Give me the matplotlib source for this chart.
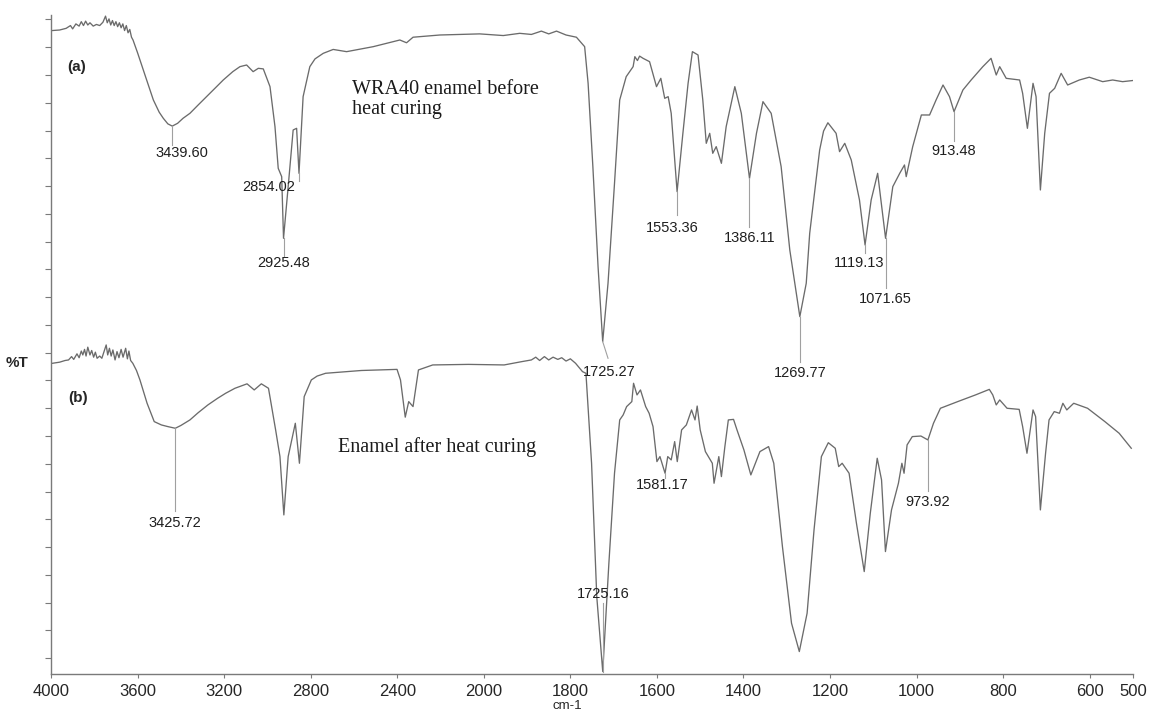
import numpy as np
import matplotlib
matplotlib.use("Agg")
import matplotlib.pyplot as plt

# ---------------- data (wavenumber cm-1, %T) ----------------
wn_a = [3995, 3960, 3930, 3910, 3900, 3885, 3870, 3860, 3850, 3840, 3830, 3820, 3805, 3790,
        3775, 3760, 3748, 3740, 3732, 3724, 3716, 3708, 3700, 3692, 3684, 3676, 3668, 3660,
        3652, 3644, 3636, 3628, 3621, 3600, 3589, 3575, 3558, 3540, 3527, 3500, 3481, 3460,
        3439.6, 3415, 3390, 3358, 3320, 3281, 3240, 3204, 3160, 3127,
        3096, 3066, 3042, 3019, 2988, 2965, 2950, 2934, 2925.5, 2904, 2881, 2865, 2854,
        2835, 2804, 2780, 2742, 2696, 2634, 2511, 2388, 2357, 2327, 2203, 2019, 1955, 1917, 1890,
        1867, 1850, 1832, 1810, 1786, 1767, 1759, 1748, 1736, 1725.3, 1713, 1698, 1686, 1671,
        1655, 1651, 1645, 1640, 1632, 1617, 1601, 1591, 1582, 1574, 1567, 1553.4, 1540, 1528,
        1518, 1505, 1494, 1486, 1478, 1471, 1463, 1451, 1440, 1420, 1405, 1386.1, 1370, 1355,
        1336, 1313, 1293, 1269.8, 1255, 1247, 1224, 1215, 1205, 1186, 1178, 1166, 1151, 1132,
        1119.1, 1105, 1090, 1071.7, 1055, 1039, 1028, 1024, 1009, 989, 970, 955, 939, 924,
        913.5, 893, 874, 847, 828, 816, 808, 793, 762, 755, 744, 731, 724, 714, 704, 693,
        681, 666, 651, 624, 601, 570, 547, 524, 501]
t_a = [118.0, 118.1, 118.4, 118.9, 118.3, 119.2, 118.8, 119.6, 118.9, 119.7, 119.0, 119.4, 118.8, 119.1,
       118.9, 119.5, 120.6, 119.4, 120.1, 119.0, 119.8, 118.9, 119.6, 118.7, 119.4, 118.5, 119.2, 118.0,
       118.9, 117.6, 118.2, 116.8, 116.3, 114.0, 112.7, 111.0, 109.1, 107.0, 105.5, 103.3, 102.2, 101.2,
       100.8, 101.3, 102.2, 103.1, 104.6, 106.1, 107.7, 109.1, 110.6, 111.5,
       111.8, 110.6, 111.2, 111.1, 107.9, 100.7, 93.2, 91.7, 80.6, 89.9, 100.1, 100.4, 92.3,
       106.1, 111.5, 112.9, 113.9, 114.6, 114.2, 115.1, 116.3, 115.8, 116.8, 117.2, 117.4, 117.1, 117.5, 117.3,
       117.9, 117.4, 117.9, 117.2, 116.8, 115.1, 108.5, 93.5, 75.5, 62.0, 72.5, 90.5, 105.5, 109.7,
       111.5, 113.3, 112.6, 113.4, 113.0, 112.4, 107.9, 109.4, 105.8, 106.1, 103.1, 89.0, 99.5, 108.5,
       114.2, 113.6, 105.5, 97.7, 99.5, 95.9, 97.1, 94.1, 100.7, 107.9, 103.1, 91.4, 99.5, 105.2,
       103.1, 93.5, 78.5, 66.5, 72.5, 81.5, 96.5, 99.9, 101.4, 99.5, 96.2, 97.7, 94.7, 87.5,
       79.4, 87.5, 92.3, 80.6, 89.9, 92.3, 93.8, 91.7, 97.1, 102.8, 102.8, 105.5, 108.2, 106.1,
       103.4, 107.3, 109.1, 111.5, 113.0, 110.0, 111.5, 109.4, 109.1, 106.7, 100.4, 108.5, 106.1, 89.3, 99.5, 106.7,
       107.6, 110.3, 108.2, 109.1, 109.6, 108.8, 109.1, 108.8, 109.0]

wn_b = [3993, 3960, 3935, 3919, 3905, 3895, 3880, 3870, 3860, 3853, 3845, 3838, 3830, 3820,
        3812, 3803, 3795, 3787, 3775, 3765, 3755, 3745, 3738, 3730, 3722, 3714, 3704, 3695,
        3686, 3676, 3667, 3655, 3647, 3640, 3632, 3622, 3605, 3589, 3556, 3523, 3490, 3460, 3425.7,
        3400, 3358, 3320, 3275, 3230, 3193, 3150, 3094, 3061, 3028, 2995, 2962, 2942, 2924, 2904, 2871, 2852, 2830,
        2797, 2770, 2731, 2566, 2401, 2385, 2363, 2347, 2327, 2302, 2236, 2071, 1953, 1912, 1890,
        1880, 1871, 1860, 1850, 1840, 1829, 1820, 1810, 1800, 1788, 1772, 1764, 1751, 1739,
        1725.2, 1711, 1698, 1686, 1678, 1670, 1658, 1654, 1646, 1638, 1626, 1618, 1609, 1600,
        1593, 1581.2, 1575, 1567, 1559, 1553, 1543, 1532, 1520, 1512, 1507, 1500, 1488, 1472,
        1468, 1457, 1451, 1443, 1435, 1423, 1415, 1399, 1383, 1362, 1342, 1330, 1310, 1289,
        1271, 1253, 1237, 1220, 1204, 1188, 1180, 1172, 1156, 1139, 1121, 1107, 1091, 1081,
        1072, 1058, 1042, 1034, 1029, 1022, 1010, 990, 973.9, 961, 945, 905, 864, 832, 824,
        816, 808, 791, 763, 755, 745, 731, 725, 714, 702, 694, 682, 670, 662, 653, 637, 605,
        565, 532, 504]
t_b = [58.1, 58.3, 58.6, 58.7, 59.3, 58.8, 59.8, 59.1, 60.3, 59.6, 60.6, 59.4, 61.0, 59.6,
       60.4, 59.2, 60.1, 59.0, 59.4, 59.0, 60.2, 61.4, 59.6, 60.8, 59.4, 60.5, 58.7, 60.2,
       59.1, 60.6, 59.2, 60.8, 58.9, 60.3, 58.6, 58.1, 56.8, 55.1, 50.9, 47.6, 47.0, 46.7, 46.4,
       46.9, 47.9, 49.2, 50.6, 51.8, 52.7, 53.6, 54.4, 53.3, 54.4, 53.6, 46.1, 41.3, 30.8, 41.3, 47.3, 40.1, 52.1,
       55.1, 55.8, 56.3, 56.8, 57.0, 55.1, 48.4, 51.2, 50.3, 56.9, 57.8, 57.9, 57.8, 58.4, 58.7,
       59.2, 58.6, 59.3, 58.7, 59.2, 58.8, 59.1, 58.5, 58.9, 58.1, 56.6, 56.3, 40.1, 16.1,
       2.6, 22.1, 38.3, 47.9, 48.8, 50.3, 51.2, 54.5, 52.4, 53.3, 50.3, 49.1, 46.7, 40.4,
       41.3, 38.3, 41.3, 40.7, 44.0, 40.4, 46.1, 47.0, 49.7, 47.9, 50.4, 46.1, 42.2, 40.1,
       36.5, 41.3, 37.7, 43.1, 47.9, 48.0, 46.1, 42.5, 38.0, 42.2, 43.1, 40.1, 25.1, 11.3,
       6.2, 13.1, 28.1, 41.3, 43.8, 42.8, 39.5, 40.1, 38.3, 29.3, 20.6, 31.1, 41.0, 37.1,
       24.2, 31.7, 36.5, 40.1, 38.3, 43.4, 44.9, 45.0, 44.3, 47.3, 50.0, 51.2, 52.4, 53.4, 52.4,
       50.6, 51.5, 50.0, 49.8, 46.7, 41.9, 49.7, 48.5, 31.7, 41.9, 47.9, 49.4, 49.1, 50.9, 49.7, 50.9, 50.0,
       47.6, 45.5, 42.8]

xticks = [4000, 3600, 3200, 2800, 2400, 2000, 1800, 1600, 1400, 1200, 1000, 800, 600, 500]

# peak labels: (text, peak wn, peak T, line end wn, line end T, label wn, label T)
peaks = [
    ("3439.60", 3439.6, 100.8, 3439.6, 97.4, 3395, 95.9),
    ("2925.48", 2925.5, 80.6, 2925.5, 77.4, 2924, 76.1),
    ("2854.02", 2854.0, 92.3, 2854.0, 90.9, 2993, 89.8),
    ("1725.27", 1725.3, 62.0, 1713, 59.0, 1709, 56.5),
    ("1553.36", 1553.4, 89.0, 1553.4, 84.8, 1564, 82.4),
    ("1386.11", 1386.1, 91.4, 1386.1, 82.6, 1386, 80.6),
    ("1269.77", 1269.8, 66.5, 1269.8, 58.3, 1268, 56.3),
    ("1119.13", 1119.1, 79.4, 1119.1, 77.9, 1133, 76.1),
    ("1071.65", 1071.7, 80.6, 1071.7, 71.6, 1072, 69.7),
    ("913.48", 913.5, 103.4, 913.5, 98.1, 915, 96.3),
    ("3425.72", 3425.7, 46.4, 3425.7, 31.5, 3427, 29.3),
    ("1725.16", 1725.2, 2.6, 1725.2, 14.9, 1723, 16.6),
    ("1581.17", 1581.2, 38.3, 1581.2, 37.4, 1587, 36.2),
    ("973.92", 973.9, 44.3, 973.9, 35.1, 975, 33.1),
]

# ---------------- figure ----------------
fig = plt.figure(figsize=(11.5, 7.11), dpi=100)
ax = fig.add_axes([0.04435, 0.05204, 0.94087, 0.92686])


def fwd(w):
    w = np.asarray(w, dtype=float)
    return np.where(w > 2000, 2000 + (w - 2000) / 2.0, w)


def inv(u):
    u = np.asarray(u, dtype=float)
    return np.where(u > 2000, 2000 + (u - 2000) * 2.0, u)


ax.set_xscale('function', functions=(fwd, inv))
ax.set_xlim(4000, 500)
ax.set_ylim(2.16, 120.8)

line_col = '#6b6b6b'
ax.plot(wn_a, t_a, color=line_col, lw=0.95, solid_joinstyle='round')
ax.plot(wn_b, t_b, color=line_col, lw=0.95, solid_joinstyle='round')

lab_font = dict(family='Liberation Sans', fontsize=10.5, color='#1f1f1f')
for txt, pw, pt, lw_, lt, tw, tt in peaks:
    ax.plot([pw, lw_], [pt, lt], color='#a0a0a0', lw=0.8)
    ax.text(tw, tt, txt, ha='center', va='center', **lab_font)

ax.text(3880, 111.4, "(a)", ha='center', va='center', family='Liberation Sans',
        fontsize=11, fontweight='bold', color='#262626')
ax.text(3875, 51.8, "(b)", ha='center', va='center', family='Liberation Sans',
        fontsize=11, fontweight='bold', color='#262626')

serif = dict(family='Liberation Serif', fontsize=14.5, color='#1a1a1a')
ax.text(2610, 107.3, "WRA40 enamel before", ha='left', va='center', **serif)
ax.text(2610, 103.7, "heat curing", ha='left', va='center', **serif)
ax.text(2674, 43.0, "Enamel after heat curing", ha='left', va='center', **serif)

# axes styling
for s in ['top', 'right']:
    ax.spines[s].set_visible(False)
for s in ['left', 'bottom']:
    ax.spines[s].set_color('#7a7a7a')
    ax.spines[s].set_linewidth(1.0)

ax.set_xticks(xticks)
ax.set_xticklabels([str(t) for t in xticks])
ax.xaxis.set_minor_locator(matplotlib.ticker.NullLocator())
ax.tick_params(axis='x', direction='out', length=3, width=0.8, color='#7a7a7a',
               pad=4, labelsize=12, labelcolor='#262626')
for lab in ax.get_xticklabels():
    lab.set_family('Liberation Sans')

ax.set_yticks(np.arange(5, 121, 5))
ax.set_yticklabels([])
ax.tick_params(axis='y', direction='out', length=4, width=0.8, color='#7a7a7a')

fig.text(17 / 1150, 1 - 363 / 711, "%T", ha='center', va='center',
         family='Liberation Sans', fontsize=11, fontweight='bold', color='#262626')
fig.text(567 / 1150, 1 - 706 / 711, "cm-1", ha='center', va='center',
         family='Liberation Sans', fontsize=9.5, color='#262626')

fig.savefig("out.png", dpi=100, facecolor='white')
